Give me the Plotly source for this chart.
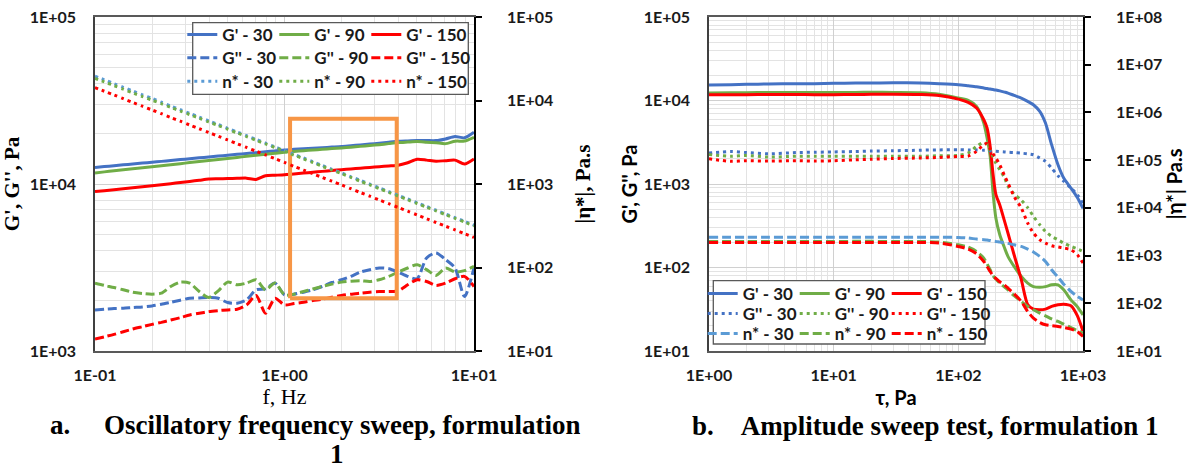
import plotly.graph_objects as go

# ---------------- data: (a) oscillatory frequency sweep ----------------
f_hz = [0.1, 0.112, 0.126, 0.141, 0.158, 0.178, 0.2, 0.224, 0.251, 0.282, 0.316,
        0.355, 0.398, 0.447, 0.501, 0.562, 0.631, 0.708, 0.794, 0.891, 1.0,
        1.12, 1.26, 1.41, 1.58, 1.78, 2.0, 2.24, 2.51, 2.82, 3.16,
        3.55, 3.98, 4.47, 5.01, 5.62, 6.31, 7.08, 7.94, 8.91, 10.0]

a_Gp_30 = [12560, 12710, 12870, 13020, 13180, 13340, 13500, 13660, 13830, 14000, 14170,
           14340, 14510, 14690, 14870, 15050, 15230, 15410, 15600, 15790, 16000,
           16120, 16240, 16370, 16500, 16630, 16760, 16950, 17150, 17340, 17540,
           17800, 18040, 18120, 18200, 18200, 18200, 18620, 19260, 18900, 20400]
a_Gp_90 = [11650, 11820, 11990, 12160, 12330, 12510, 12690, 12870, 13060, 13240, 13430,
           13630, 13820, 14020, 14220, 14430, 14640, 14850, 15060, 15280, 15500,
           15660, 15820, 15980, 16140, 16300, 16440, 16620, 16800, 17000, 17200,
           17450, 17700, 17830, 17950, 17800, 17650, 17450, 18040, 18100, 19050]
a_Gp_150 = [9010, 9120, 9240, 9360, 9490, 9620, 9750, 9900, 10050, 10200, 10360,
            10530, 10700, 10740, 10780, 10810, 10840, 10650, 11200, 11280, 11360,
            11490, 11620, 11760, 11900, 12040, 12180, 12310, 12440, 12570, 12700,
            12820, 12950, 13400, 14060, 13900, 13680, 13800, 13900, 13180, 14130]
a_Gpp_30 = [1762, 1778, 1795, 1803, 1820, 1836, 1862, 1905, 1958, 2014, 2071,
            2080, 2090, 2071, 1950, 1932, 2023, 2325, 2355, 2550, 2169,
            2189, 2250, 2325, 2434, 2570, 2671, 2797, 2971, 3069, 3141,
            3112, 2971, 2797, 2707, 3607, 3867, 3525, 3141, 2119, 3141]
a_Gpp_90 = [2550, 2470, 2400, 2325, 2250, 2210, 2189, 2219, 2434, 2585, 2550,
            2271, 2090, 2290, 2585, 2491, 2550, 2670, 2325, 2550, 2169,
            2189, 2271, 2350, 2434, 2515, 2585, 2620, 2634, 2609, 2671,
            2797, 2971, 3141, 3289, 3069, 2836, 3141, 2971, 3027, 3214]
a_Gpp_150 = [1178, 1216, 1257, 1304, 1353, 1398, 1443, 1484, 1532, 1584, 1643,
             1682, 1721, 1745, 1762, 1778, 1888, 2150, 1682, 2071, 1888,
             1923, 1959, 2005, 2041, 2100, 2150, 2189, 2219, 2250, 2271,
             2271, 2290, 2491, 2671, 2609, 2470, 2550, 2707, 2797, 2434]
a_eta_30 = [19600, 17700, 15900, 14400, 13000, 11700, 10600, 9550, 8600, 7780, 7010,
            6330, 5710, 5160, 4650, 4200, 3790, 3420, 3090, 2780, 2510,
            2270, 2050, 1850, 1670, 1500, 1360, 1220, 1110, 997, 900,
            812, 732, 661, 597, 538, 486, 438, 396, 357, 322]
a_eta_90 = [18400, 16700, 15100, 13650, 12350, 11150, 10100, 9150, 8280, 7480, 6780,
            6130, 5540, 5010, 4530, 4090, 3700, 3340, 3020, 2730, 2460,
            2220, 2000, 1810, 1630, 1470, 1330, 1200, 1080, 975, 880,
            795, 717, 647, 584, 527, 476, 429, 388, 350, 315]
a_eta_150 = [14300, 12900, 11650, 10500, 9470, 8540, 7700, 6950, 6260, 5650, 5090,
             4590, 4140, 3740, 3370, 3040, 2740, 2470, 2230, 2010, 1810,
             1630, 1470, 1330, 1200, 1080, 974, 878, 792, 714, 644,
             581, 524, 472, 426, 384, 346, 312, 282, 254, 229]

box_f = [1.07, 3.91]
box_G = [2070, 24600]

# ---------------- data: (b) amplitude sweep ----------------
tau_pa = [1, 1.5, 2, 3, 5, 7, 10, 15, 20, 30, 50, 70, 100, 120, 140, 160, 170, 180,
          190, 200, 215, 235, 250, 280, 320, 360, 400, 450, 500, 560, 630, 700, 800, 900, 1000]

b_Gp_30 = [15320, 15460, 15610, 15750, 15890, 15890, 16040, 16190, 16190, 16340, 16190, 15890,
           15460, 15020, 14630, 14100, 13900, 13720, 13530, 13340, 13050, 12600, 12280, 11500,
           10700, 9760, 8900, 7410, 5370, 2960, 1700, 1180, 895, 690, 510]
b_Gp_90 = [12300, 12350, 12400, 12450, 12450, 12500, 12500, 12500, 12550, 12500, 12400, 11900,
           10700, 10040, 8500, 5370, 3550, 2140, 770, 392, 247, 171, 136, 103,
           78, 65, 59, 58, 59, 62, 62, 54, 41, 34, 27]
b_Gp_150 = [11750, 11700, 11750, 11800, 11800, 11750, 11750, 11800, 11850, 11900, 11800, 11500,
            10400, 9500, 8130, 5890, 4690, 2820, 1300, 750, 560, 357, 259, 142,
            71.5, 36, 31.7, 31.2, 31.7, 34.2, 35.8, 36.4, 34.8, 26.5, 17.2]
b_Gpp_30 = [2350, 2450, 2380, 2300, 2380, 2400, 2420, 2450, 2480, 2500, 2540, 2560,
            2575, 2560, 2560, 2540, 2530, 2500, 2480, 2460, 2440, 2420, 2400, 2380,
            2340, 2300, 2240, 2050, 1870, 1550, 1255, 1080, 895, 745, 580]
b_Gpp_90 = [2250, 2150, 2200, 2100, 2150, 2150, 2150, 2150, 2150, 2150, 2150, 2180,
            2200, 2350, 2820, 3150, 3000, 2575, 2100, 1780, 1480, 1180, 937, 760,
            640, 520, 410, 325, 270, 236, 215, 196, 179, 167, 156]
b_Gpp_150 = [2000, 1870, 1900, 1880, 1900, 1880, 1900, 1950, 1980, 2020, 2050, 2080,
             2140, 2160, 2460, 2960, 3050, 2625, 2300, 2050, 1700, 1250, 1030, 711,
             515, 341, 259, 215, 196, 182, 176, 171, 163, 142, 113]
b_eta_30 = [2420, 2430, 2420, 2420, 2430, 2420, 2430, 2430, 2430, 2420, 2420, 2410,
            2400, 2330, 2215, 2150, 2110, 2075, 2010, 1978, 1916, 1855, 1800, 1684,
            1554, 1366, 1190, 959, 753, 504, 354, 252, 177, 139, 118]
b_eta_90 = [1980, 1975, 1980, 1978, 1980, 1978, 1980, 1985, 1985, 1980, 1970, 1916,
            1684, 1505, 1221, 885, 673, 504, 377, 321, 265, 218, 192, 144,
            109, 86, 73, 62, 54.7, 47, 41.6, 36.6, 31.1, 26.5, 23.7]
b_eta_150 = [1885, 1880, 1885, 1885, 1890, 1885, 1890, 1890, 1890, 1885, 1880, 1840,
             1554, 1366, 1091, 753, 592, 465, 377, 333, 282, 240, 208, 158,
             109, 67.4, 48.9, 39.6, 35.4, 33.8, 32.7, 31.1, 28.7, 25.6, 20.2]

# tick labels
a_x_ticks = [0.1, 1, 10]
a_x_text = ["1E-01", "1E+00", "1E+01"]
a_y_ticks = [1e3, 1e4, 1e5]
a_y_text = ["1E+03", "1E+04", "1E+05"]
a_y2_ticks = [1e1, 1e2, 1e3, 1e4, 1e5]
a_y2_text = ["1E+01", "1E+02", "1E+03", "1E+04", "1E+05"]
b_x_ticks = [1, 10, 100, 1000]
b_x_text = ["1E+00", "1E+01", "1E+02", "1E+03"]
b_y_ticks = [1e1, 1e2, 1e3, 1e4, 1e5]
b_y_text = ["1E+01", "1E+02", "1E+03", "1E+04", "1E+05"]
b_y2_ticks = [1e1, 1e2, 1e3, 1e4, 1e5, 1e6, 1e7, 1e8]
b_y2_text = ["1E+01", "1E+02", "1E+03", "1E+04", "1E+05", "1E+06", "1E+07", "1E+08"]

# ---------------- styling ----------------
W, H = 1195, 470
MT, MB = 17, 119
PH = H - MT - MB
BLUE, LBLUE, GREEN, RED, ORANGE = "#4472C4", "#5B9BD5", "#70AD47", "#FF0000", "#F79646"
DASH = "9px,4px"
DOT = "3px,4px"
SANS = "Lato, Carlito, Calibri, sans-serif"
SERIF = "Liberation Serif, Times New Roman, serif"


def px_x(X):
    return X / W


def px_y(Y):
    return (H - MB - Y) / PH


def minor_vals(lo_exp, hi_exp):
    return [m * 10 ** e for e in range(lo_exp, hi_exp) for m in range(2, 10)]


fig = go.Figure()


def add(x, y, name, color, dash, xa, ya, leg, lw=None):
    fig.add_trace(go.Scatter(
        x=x, y=y, name=name, mode="lines", xaxis=xa, yaxis=ya, legend=leg,
        legendwidth=lw,
        line=dict(color=color, width=3, dash=dash, shape="spline", smoothing=0.7),
        hoverinfo="skip"))


LAST = 80  # wider entry for the last legend column so the label is not clipped

# chart a
add(f_hz, a_Gp_30, "G' - 30", BLUE, "solid", "x", "y", "legend")
add(f_hz, a_Gp_90, "G' - 90", GREEN, "solid", "x", "y", "legend")
add(f_hz, a_Gp_150, "G' - 150", RED, "solid", "x", "y", "legend", LAST)
add(f_hz, a_Gpp_30, "G'' - 30", BLUE, DASH, "x", "y", "legend2")
add(f_hz, a_Gpp_90, "G'' - 90", GREEN, DASH, "x", "y", "legend2")
add(f_hz, a_Gpp_150, "G'' - 150", RED, DASH, "x", "y", "legend2", LAST)
add(f_hz, a_eta_30, "n* - 30", LBLUE, DOT, "x", "y2", "legend3")
add(f_hz, a_eta_90, "n* - 90", GREEN, DOT, "x", "y2", "legend3")
add(f_hz, a_eta_150, "n* - 150", RED, DOT, "x", "y2", "legend3", LAST)
fig.add_trace(go.Scatter(
    x=[box_f[0], box_f[1], box_f[1], box_f[0], box_f[0]],
    y=[box_G[0], box_G[0], box_G[1], box_G[1], box_G[0]],
    mode="lines", line=dict(color=ORANGE, width=4), xaxis="x", yaxis="y",
    showlegend=False, hoverinfo="skip"))

# chart b
add(tau_pa, b_Gp_30, "G' - 30", BLUE, "solid", "x2", "y3", "legend4")
add(tau_pa, b_Gp_90, "G' - 90", GREEN, "solid", "x2", "y3", "legend4")
add(tau_pa, b_Gp_150, "G' - 150", RED, "solid", "x2", "y3", "legend4", LAST)
add(tau_pa, b_Gpp_30, "G'' - 30", BLUE, DOT, "x2", "y3", "legend5")
add(tau_pa, b_Gpp_90, "G'' - 90", GREEN, DOT, "x2", "y3", "legend5")
add(tau_pa, b_Gpp_150, "G'' - 150", RED, DOT, "x2", "y3", "legend5", LAST)
add(tau_pa, b_eta_30, "n* - 30", LBLUE, DASH, "x2", "y4", "legend6")
add(tau_pa, b_eta_90, "n* - 90", GREEN, DASH, "x2", "y4", "legend6")
add(tau_pa, b_eta_150, "n* - 150", RED, DASH, "x2", "y4", "legend6", LAST)

tickfont = dict(family=SANS, size=16, color="#1a1a1a", weight="bold")
GRID, MINOR = "#D0D0D0", "#E3E3E3"


def xaxis(domain, rng, tv, tt, title, tfont, anchor, mlo, mhi, standoff):
    return dict(domain=domain, type="log", range=rng, anchor=anchor, automargin=False,
                tickvals=tv, ticktext=tt, tickfont=tickfont, ticks="",
                showgrid=True, gridcolor=GRID, gridwidth=1,
                minor=dict(tickvals=minor_vals(mlo, mhi), showgrid=True, gridcolor=MINOR, ticks=""),
                showline=True, linecolor="#595959", linewidth=1.5, mirror=True,
                ticklabelstandoff=9, zeroline=False,
                title=dict(text=title, font=tfont, standoff=standoff))


def yaxis_left(rng, tv, tt, title, tfont, anchor, mlo, mhi, standoff):
    return dict(type="log", range=rng, anchor=anchor, domain=[0, 1], automargin=False,
                tickvals=tv, ticktext=tt, tickfont=tickfont, ticks="",
                showgrid=True, gridcolor=GRID, gridwidth=1,
                minor=dict(tickvals=minor_vals(mlo, mhi), showgrid=True, gridcolor=MINOR, ticks=""),
                showline=True, linecolor="#404040", linewidth=1.5,
                ticklabelstandoff=14, zeroline=False,
                title=dict(text=title, font=tfont, standoff=standoff))


def yaxis_right(rng, tv, tt, title, tfont, anchor, over, standoff):
    return dict(type="log", range=rng, anchor=anchor, overlaying=over, side="right", automargin=False,
                tickvals=tv, ticktext=tt, tickfont=tickfont,
                ticks="outside", ticklen=6, tickcolor="#000", tickwidth=1.5,
                showgrid=False, showline=True, linecolor="#000", linewidth=1.5,
                ticklabelstandoff=22, zeroline=False,
                title=dict(text=title, font=tfont, standoff=standoff))


serif_title = dict(family=SERIF, size=21, color="#000", weight="bold")
sans_title = dict(family=SANS, size=20, color="#000", weight="bold")

legend_font = dict(family=SANS, size=17, color="#1a1a1a", weight="bold")


def leg(x_text, y_row):
    return dict(orientation="h", x=px_x(x_text - 40), xanchor="left", y=px_y(y_row), yanchor="middle",
                xref="paper", yref="paper", entrywidth=47, entrywidthmode="pixels",
                bgcolor="rgba(0,0,0,0)", borderwidth=0, font=legend_font, itemwidth=30,
                tracegroupgap=0)


cap_font = dict(family=SERIF, size=27, color="#000", weight="bold")

fig.update_layout(
    template="none",
    width=W, height=H,
    margin=dict(l=0, r=0, t=MT, b=MB, autoexpand=False),
    paper_bgcolor="white", plot_bgcolor="white",
    xaxis=xaxis([px_x(95), px_x(474)], [-1, 1], a_x_ticks, a_x_text, "f, Hz",
                dict(family=SERIF, size=22, color="#000"), "y", -1, 1, 6),
    yaxis=yaxis_left([3, 5], a_y_ticks, a_y_text, "G', G'', Pa", serif_title, "x", 3, 5, 12),
    yaxis2=yaxis_right([1, 5], a_y2_ticks, a_y2_text, "|η*|, Pa.s", serif_title, "x", "y", 23),
    xaxis2=xaxis([px_x(709), px_x(1083)], [0, 3], b_x_ticks, b_x_text, "τ, Pa",
                 sans_title, "y3", 0, 3, 8),
    yaxis3=yaxis_left([1, 5], b_y_ticks, b_y_text, "G', G'', Pa", sans_title, "x2", 1, 5, 1),
    yaxis4=yaxis_right([1, 8], b_y2_ticks, b_y2_text, "|η*| Pa.s", sans_title, "x2", "y3", 6),
    legend=leg(222.3, 35),
    legend2=leg(222.3, 58.3),
    legend3=leg(222.3, 81.7),
    legend4=leg(742.7, 294),
    legend5=leg(742.7, 314),
    legend6=leg(742.7, 334),
    shapes=[
        dict(type="rect", xref="paper", yref="paper", x0=px_x(192.7), x1=px_x(468.3),
             y0=px_y(94.3), y1=px_y(22.7), line=dict(color="#595959", width=1.3),
             fillcolor="white", layer="above"),
        dict(type="rect", xref="paper", yref="paper", x0=px_x(713.3), x1=px_x(985),
             y0=px_y(344), y1=px_y(280.7), line=dict(color="#595959", width=1.3),
             fillcolor="white", layer="above"),
    ],
    annotations=[
        dict(text="a.\u00a0\u00a0\u00a0\u00a0\u00a0Oscillatory frequency sweep, formulation",
             x=px_x(315), y=px_y(425), xref="paper", yref="paper", showarrow=False,
             xanchor="center", yanchor="middle", height=30, valign="middle", font=cap_font),
        dict(text="1", x=px_x(337), y=px_y(454), xref="paper", yref="paper", showarrow=False,
             xanchor="center", yanchor="middle", height=26, valign="middle", font=cap_font),
        dict(text="b.\u00a0\u00a0\u00a0\u00a0Amplitude sweep test, formulation 1",
             x=px_x(925), y=px_y(426), xref="paper", yref="paper", showarrow=False,
             xanchor="center", yanchor="middle", height=30, valign="middle", font=cap_font),
    ],
)

fig.write_html("out.html", config={"displayModeBar": False},
               post_script="document.body.style.margin='0px';")
